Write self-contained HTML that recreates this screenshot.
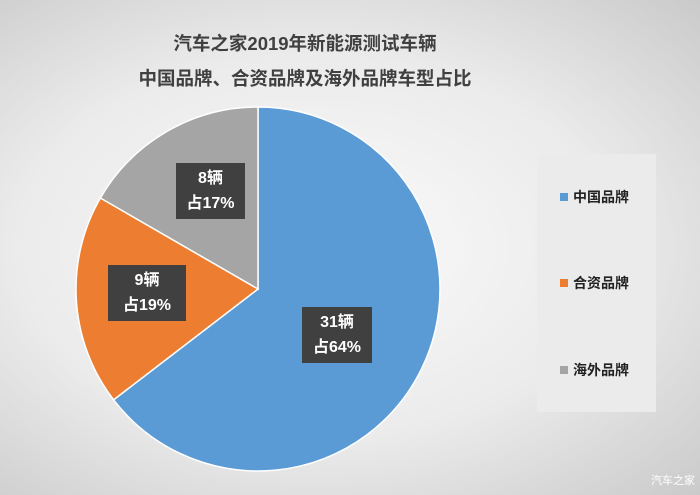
<!DOCTYPE html>
<html><head><meta charset="utf-8"><style>
body{margin:0;width:700px;height:495px;overflow:hidden;background:radial-gradient(ellipse at 45% 50%,#fbfbfb 0%,#ebebeb 55%,#cacaca 100%);font-family:"Liberation Sans","Noto Sans CJK SC",sans-serif;position:relative}
.t{position:absolute;left:0;width:610px;text-align:center;font-weight:bold;font-size:18.5px;color:#404040}
.lab{position:absolute;background:#404040;color:#fff;font-weight:bold;font-size:16px;line-height:25px;text-align:center;padding:3px 4px}
.leg{position:absolute;left:537px;top:154px;width:119px;height:258px;background:#ebebeb}
.li{position:absolute;left:560px;font-size:14px;font-weight:bold;color:#222}
.li i{display:inline-block;width:8px;height:8px;margin-right:5px;vertical-align:1px}
</style></head><body>
<div class="t" style="top:30px">汽车之家2019年新能源测试车辆</div>
<div class="t" style="top:65px">中国品牌、合资品牌及海外品牌车型占比</div>
<svg width="700" height="495" style="position:absolute;left:0;top:0">
<path d="M258,289 L258,107 A182,182 0 1,1 113.6,399.8 Z" fill="#5b9bd5" stroke="#fff" stroke-width="1.5"/>
<path d="M258,289 L113.6,399.8 A182,182 0 0,1 100.4,198 Z" fill="#ed7d31" stroke="#fff" stroke-width="1.5"/>
<path d="M258,289 L100.4,198 A182,182 0 0,1 258,107 Z" fill="#a5a5a5" stroke="#fff" stroke-width="1.5"/>
</svg>
<div class="lab" style="left:176px;top:163px;width:61px">8辆<br>占17%</div>
<div class="lab" style="left:108px;top:265px;width:70px">9辆<br>占19%</div>
<div class="lab" style="left:302px;top:307px;width:62px">31辆<br>占64%</div>
<div class="leg"></div>
<div class="li" style="top:187px"><i style="background:#5b9bd5"></i>中国品牌</div>
<div class="li" style="top:273px"><i style="background:#ed7d31"></i>合资品牌</div>
<div class="li" style="top:360px"><i style="background:#a5a5a5"></i>海外品牌</div>
<div style="position:absolute;left:651px;top:472px;font-size:11px;color:#fff">汽车之家</div>
</body></html>
